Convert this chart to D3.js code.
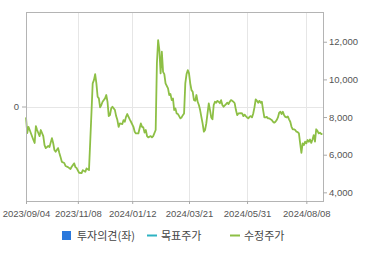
<!DOCTYPE html>
<html>
<head>
<meta charset="utf-8">
<script src="https://cdn.jsdelivr.net/npm/d3@7/dist/d3.min.js"></script>
<style>
  body { margin: 0; background: #fff; }
  .axis text { font-family: "Liberation Sans", Arial, sans-serif; font-size: 9.5px; fill: #555; }
  .axis line { stroke: #aaa; }
  .legend text { font-family: "Noto Sans CJK KR", sans-serif; font-size: 11px; fill: #444; }
</style>
</head>
<body>
<div id="chart"></div>
<script>
// trading-day index (0 = 2023/09/04) and adjusted close
const tickDays = [0, 42, 86, 132, 179, 227]
const tickLabels = ['2023/09/04', '2023/11/08', '2024/01/12', '2024/03/21', '2024/05/31', '2024/08/08']
const priceTicks = [4000, 6000, 8000, 10000, 12000]
const opinionTicks = [0]
const legendNames = ['투자의견(좌)', '목표주가', '수정주가']

const priceDays = [
  0, 1, 2, 3, 6, 7, 8, 9, 11, 12, 14, 15, 16, 18, 19, 21, 22, 23, 24, 26,
  27, 28, 29, 31, 32, 34, 36, 37, 39, 40, 41, 43, 45, 46, 48, 49, 51, 52, 53, 54,
  55, 56, 57, 58, 59, 60, 61, 62, 64, 65, 66, 67, 68, 69, 70, 72, 73, 74, 75, 76,
  78, 79, 80, 81, 82, 84, 85, 87, 88, 89, 91, 92, 93, 94, 95, 96, 97, 98, 99, 101,
  102, 103, 105, 106, 107, 108, 109, 110, 111, 112, 113, 115, 116, 117, 118, 119, 120, 121, 122, 123,
  124, 125, 126, 127, 128, 129, 130, 131, 132, 133, 134, 135, 136, 137, 138, 139, 140, 141, 142, 143,
  144, 145, 146, 147, 148, 149, 150, 151, 152, 153, 154, 155, 156, 157, 158, 159, 160, 162, 163, 164,
  165, 166, 167, 168, 169, 170, 171, 172, 174, 175, 176, 177, 178, 179, 180, 181, 182, 183, 184, 185,
  186, 187, 188, 189, 190, 191, 192, 193, 194, 195, 196, 197, 198, 199, 200, 201, 202, 203, 204, 205,
  206, 207, 208, 209, 210, 211, 212, 213, 214, 215, 216, 217, 218, 219, 220, 221, 222, 223, 224, 225,
  226, 227, 228, 229, 230, 231, 232, 233, 234, 235, 236, 237, 238, 239, 240
]
const prices = [
  7980, 7150, 7480, 7310, 6780, 6620, 7520, 7310, 6990, 7310, 6990, 6510, 6350, 6460, 6410, 6880, 6620, 6250, 6160, 6350,
  6090, 5870, 5620, 5560, 5400, 5340, 5240, 5360, 5540, 5340, 5290, 5040, 5020, 5180, 5090, 5270, 5180, 6690, 8210, 9790,
  9960, 10280, 9790, 9080, 8990, 8510, 8640, 8810, 8990, 9170, 8810, 8050, 8100, 8460, 8550, 8370, 8050, 7840, 7480, 7660,
  7630, 7840, 7750, 8010, 8160, 7880, 7750, 7480, 7220, 7130, 7130, 7400, 7660, 7480, 7450, 7170, 7310, 6990, 6920, 6990,
  6920, 6990, 7310, 10850, 12090, 11560, 10320, 11470, 10400, 10280, 9790, 9520, 9170, 9220, 8900, 8990, 8370, 8460, 8190, 8160,
  8050, 7930, 7980, 8100, 8190, 9790, 10280, 10490, 10320, 9790, 9430, 9340, 8900, 8860, 9170, 8810, 8640, 8370, 8010, 7660,
  7220, 7310, 7660, 8190, 8730, 8370, 7980, 7880, 8640, 8810, 8760, 8860, 8810, 8730, 8900, 8640, 8550, 8690, 8760, 8690,
  8810, 8900, 8860, 8810, 8730, 8370, 8100, 8190, 8210, 8190, 8050, 8130, 8050, 7980, 7930, 8010, 8050, 7980, 8190, 8510,
  8940, 8860, 8760, 8860, 8760, 8810, 8370, 7980, 7980, 8010, 7930, 7930, 7880, 7840, 7750, 7700, 7750, 7840, 7980, 8230,
  8280, 8160, 8280, 8100, 8010, 7980, 8030, 7880, 7750, 7480, 7350, 7350, 7310, 7220, 7200, 7130, 6600, 6100, 6600, 6510,
  6690, 6600, 6780, 6690, 6810, 6630, 6810, 7040, 6690, 7350, 7270, 7130, 7170, 7100, 7100
]

const margin = { top: 12, right: 47, bottom: 54, left: 26 }
const chartWidth = 370
const chartHeight = 255
const width = chartWidth - margin.left - margin.right
const height = chartHeight - margin.top - margin.bottom

const svg = d3.select('#chart')
  .append('svg')
    .attr('width', chartWidth)
    .attr('height', chartHeight)

const g = svg.append('g')
  .attr('transform', `translate(${margin.left}, ${margin.top})`)

const x = d3.scaleLinear()
  .domain([0, 240.5])
  .range([0, width])

const yPrice = d3.scaleLinear()
  .domain([3540, 13580])
  .range([height, 0])

const yOpinion = d3.scaleLinear()
  .domain([-1, 1])
  .range([height, 0])

// grid
g.selectAll('.vgrid')
  .data(tickDays.slice(1))
  .enter()
  .append('line')
    .attr('x1', d => Math.round(x(d)) + 0.5)
    .attr('x2', d => Math.round(x(d)) + 0.5)
    .attr('y1', 0)
    .attr('y2', height)
    .attr('stroke', '#e6e6e6')

g.selectAll('.hgrid')
  .data(opinionTicks)
  .enter()
  .append('line')
    .attr('x1', 0)
    .attr('x2', width)
    .attr('y1', d => Math.round(yOpinion(d)) + 0.5)
    .attr('y2', d => Math.round(yOpinion(d)) + 0.5)
    .attr('stroke', '#e6e6e6')

// price line
const line = d3.line()
  .x((d, i) => x(priceDays[i]))
  .y(d => yPrice(d))

g.append('path')
  .attr('d', line(prices))
  .attr('fill', 'none')
  .attr('stroke', '#8dbf45')
  .attr('stroke-width', 1.8)
  .attr('stroke-linejoin', 'round')

// frame
g.append('rect')
  .attr('x', 0.5)
  .attr('y', 0.5)
  .attr('width', width)
  .attr('height', height)
  .attr('fill', 'none')
  .attr('stroke', '#b4b4b4')

// axes
g.append('g')
  .attr('class', 'axis')
  .attr('transform', `translate(0, ${height})`)
  .call(d3.axisBottom(x).tickValues(tickDays).tickFormat((d, i) => tickLabels[i]).tickSize(3).tickPadding(6))
  .call(a => a.select('.domain').remove())

g.append('g')
  .attr('class', 'axis')
  .attr('transform', `translate(${width}, 0)`)
  .call(d3.axisRight(yPrice).tickValues(priceTicks).tickFormat(d3.format(',')).tickSize(4).tickPadding(2))
  .call(a => a.select('.domain').remove())

g.append('g')
  .attr('class', 'axis')
  .call(d3.axisLeft(yOpinion).tickValues(opinionTicks).tickFormat(d3.format('d')).tickSize(4).tickPadding(3))
  .call(a => a.select('.domain').remove())

// legend
const legendX = [62, 147, 230]
const legend = svg.append('g').attr('class', 'legend')

legend.append('rect')
  .attr('x', legendX[0])
  .attr('y', 231)
  .attr('width', 9)
  .attr('height', 9)
  .attr('fill', '#2a78dc')

legend.append('line')
  .attr('x1', legendX[1]).attr('x2', legendX[1] + 10)
  .attr('y1', 235.5).attr('y2', 235.5)
  .attr('stroke', '#2db3c2')
  .attr('stroke-width', 2)

legend.append('line')
  .attr('x1', legendX[2]).attr('x2', legendX[2] + 10)
  .attr('y1', 235.5).attr('y2', 235.5)
  .attr('stroke', '#8dbf45')
  .attr('stroke-width', 2)

legend.selectAll('text')
  .data(legendNames)
  .enter()
  .append('text')
    .attr('x', (d, i) => legendX[i] + (i === 0 ? 15 : 14))
    .attr('y', 239.5)
    .text(d => d)
</script>
</body>
</html>
